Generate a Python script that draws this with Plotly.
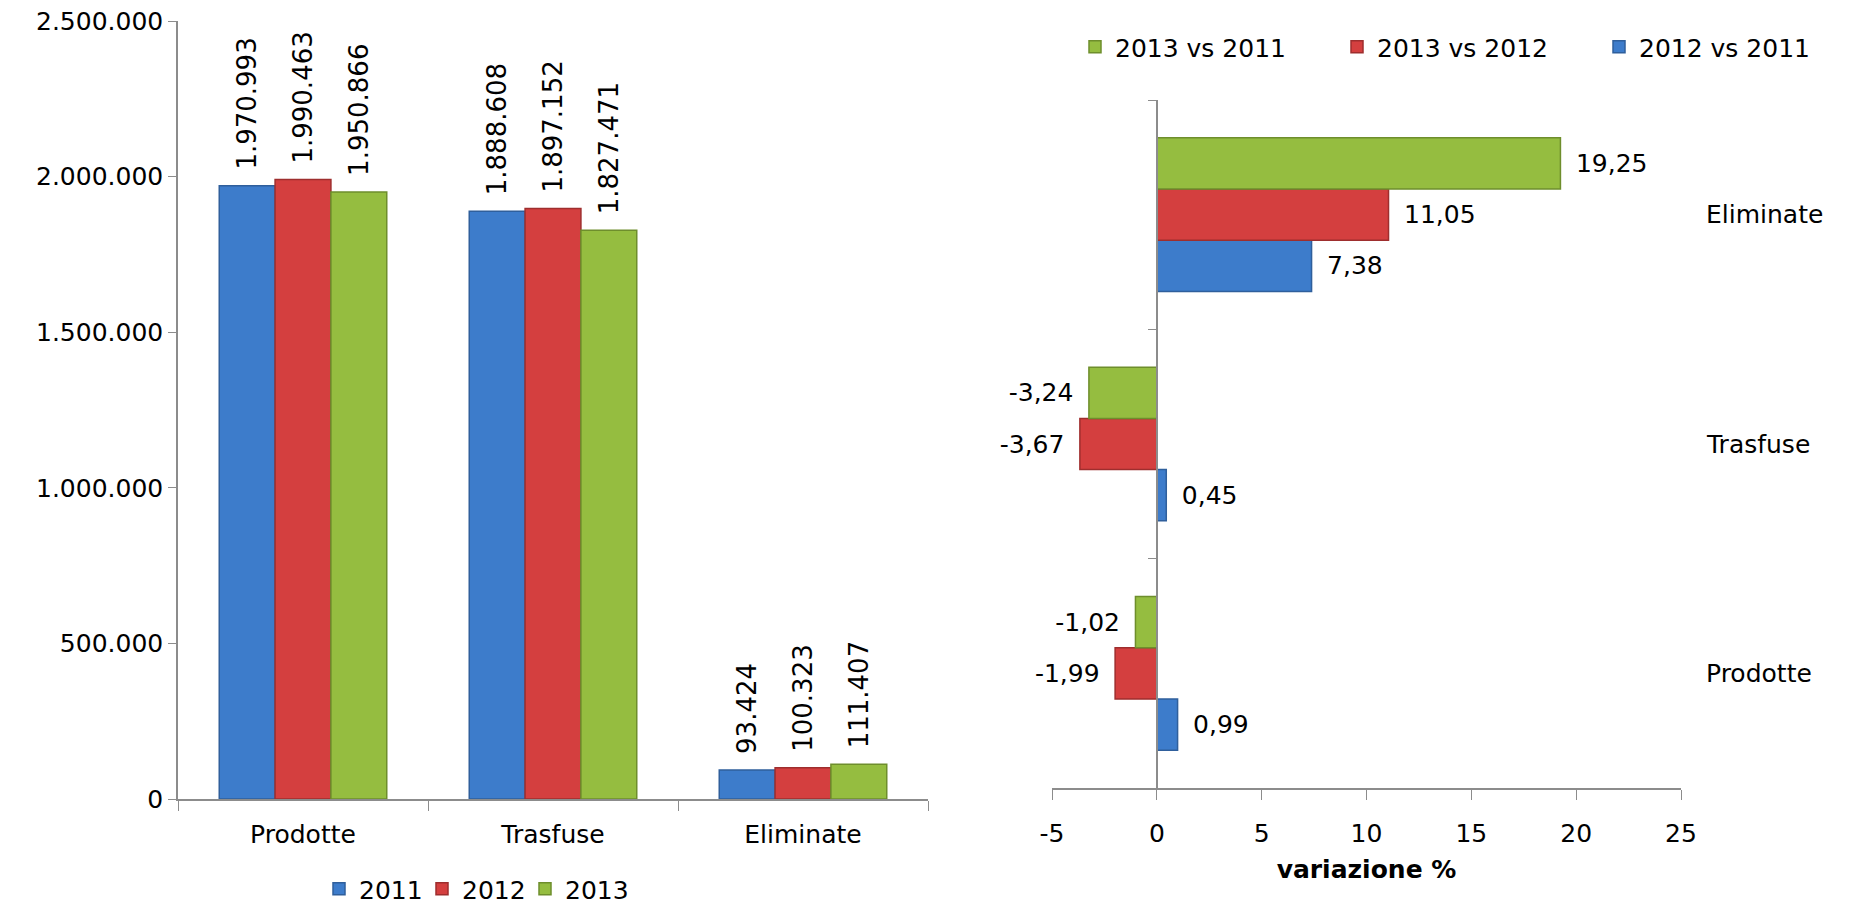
"""Unità di sangue prodotte, trasfuse ed eliminate 2011-2013 e variazioni %."""
import plotly.graph_objects as go

categories = ["Prodotte", "Trasfuse", "Eliminate"]

units_2011 = [1970993, 1888608, 93424]
units_2012 = [1990463, 1897152, 100323]
units_2013 = [1950866, 1827471, 111407]

var_2012_vs_2011 = [0.99, 0.45, 7.38]
var_2013_vs_2012 = [-1.99, -3.67, 11.05]
var_2013_vs_2011 = [-1.02, -3.24, 19.25]

y_ticks = [0, 500000, 1000000, 1500000, 2000000, 2500000]
x_ticks = [-5, 0, 5, 10, 15, 20, 25]

COLORS = {
    "blue": "#3D7CCB",
    "red": "#D43F3F",
    "green": "#95BD40",
    "blue_dk": "#2F5F9C",
    "red_dk": "#9E2E2E",
    "green_dk": "#6E8E2C",
    "axis": "#8C8C8C",
    "text": "#000000",
}

TICK_FONT = dict(family="Verdana, 'DejaVu Sans', sans-serif", size=25, color=COLORS["text"])
LABEL_FONT = dict(family="Verdana, 'DejaVu Sans', sans-serif", size=26, color=COLORS["text"])

# page body has an 8px margin, so the figure is sized to what is visible
OFF = 8
W, H = 1849 - OFF, 903 - OFF


def px_x(x):
    return (x - OFF) / W


def px_y(y):
    return 1 - (y - OFF) / H


# plot areas in screen pixels
L_X0, L_X1, L_Y0, L_Y1 = 178, 928, 21, 799
R_X0, R_X1, R_Y0, R_Y1 = 1052, 1681, 100, 788
R_RANGE = [-5, 25]


def _pct(v):
    s = f"{v:.2f}".replace(".", ",")
    return "\u2002" + s if v > 0 else s + "\u2002"


fig = go.Figure()

# ─────────────── left: unità ───────────────
for name, vals, col, dk in [
    ("2011", units_2011, COLORS["blue"], COLORS["blue_dk"]),
    ("2012", units_2012, COLORS["red"], COLORS["red_dk"]),
    ("2013", units_2013, COLORS["green"], COLORS["green_dk"]),
]:
    fig.add_trace(go.Bar(
        x=categories, y=vals, name=name,
        marker=dict(color=col, line=dict(color=dk, width=1.5)),
        texttemplate="\u2002%{y:,}", textposition="outside", textangle=-90,
        textfont=LABEL_FONT, constraintext="none", cliponaxis=False,
        xaxis="x", yaxis="y", legend="legend",
    ))

# ─────────────── right: variazione % ───────────────
for name, vals, col, dk in [
    ("2012 vs 2011", var_2012_vs_2011, COLORS["blue"], COLORS["blue_dk"]),
    ("2013 vs 2012", var_2013_vs_2012, COLORS["red"], COLORS["red_dk"]),
    ("2013 vs 2011", var_2013_vs_2011, COLORS["green"], COLORS["green_dk"]),
]:
    fig.add_trace(go.Bar(
        y=categories, x=vals, name=name, orientation="h",
        marker=dict(color=col, line=dict(color=dk, width=1.5)),
        text=[_pct(v) for v in vals], textposition="outside",
        textfont=TICK_FONT, constraintext="none", cliponaxis=False,
        xaxis="x2", yaxis="y2", legend="legend2",
    ))

zero_px = R_X0 + (0 - R_RANGE[0]) / (R_RANGE[1] - R_RANGE[0]) * (R_X1 - R_X0)

annotations = [
    dict(text=c, x=px_x(1704), xref="paper", xanchor="left", y=c, yref="y2",
         showarrow=False, font=TICK_FONT)
    for c in categories
]

fig.update_layout(
    width=W, height=H,
    margin=dict(l=0, r=0, t=0, b=0, autoexpand=False),
    paper_bgcolor="white", plot_bgcolor="white",
    separators=",.",
    barmode="group", bargap=0.33, bargroupgap=0,
    font=TICK_FONT,
    xaxis=dict(
        domain=[px_x(L_X0), px_x(L_X1)], anchor="y",
        showline=True, linecolor=COLORS["axis"], linewidth=1.5,
        ticks="outside", tickson="boundaries", ticklen=10, tickcolor=COLORS["axis"],
        ticklabelstandoff=12, tickfont=TICK_FONT, showgrid=False,
    ),
    yaxis=dict(
        domain=[px_y(L_Y1), px_y(L_Y0)], anchor="x",
        range=[0, 2500000], tickvals=y_ticks, tickformat=",",
        showline=True, linecolor=COLORS["axis"], linewidth=1.5,
        ticks="outside", ticklen=8, tickcolor=COLORS["axis"],
        ticklabeloverflow="allow",
        tickfont=TICK_FONT, showgrid=False, zeroline=False,
    ),
    xaxis2=dict(
        domain=[px_x(R_X0), px_x(R_X1)], anchor="y2",
        range=R_RANGE, tickvals=x_ticks, ticktext=[str(v) for v in x_ticks],
        showline=True, linecolor=COLORS["axis"], linewidth=1.5,
        ticks="outside", ticklen=10, tickcolor=COLORS["axis"],
        ticklabelstandoff=12, tickfont=TICK_FONT, showgrid=False, zeroline=False,
        title=dict(text="<b>variazione %</b>", font=TICK_FONT, standoff=14),
    ),
    yaxis2=dict(
        domain=[px_y(R_Y1), px_y(R_Y0)], anchor="free", position=px_x(zero_px),
        type="category", range=[-0.5, 2.5],
        showline=True, linecolor=COLORS["axis"], linewidth=1.5,
        ticks="outside", tickson="boundaries", ticklen=8, tickcolor=COLORS["axis"],
        showticklabels=False, showgrid=False,
    ),
    legend=dict(
        orientation="h", x=px_x(319), xanchor="left", y=px_y(889), yanchor="middle",
        font=TICK_FONT, traceorder="normal", itemwidth=30,
        entrywidth=58, entrywidthmode="pixels",
    ),
    legend2=dict(
        orientation="h", x=px_x(1075), xanchor="left", y=px_y(47), yanchor="middle",
        font=TICK_FONT, traceorder="reversed", itemwidth=30,
        entrywidth=217, entrywidthmode="pixels",
    ),
    annotations=annotations,
)

fig.write_html("out.html")
